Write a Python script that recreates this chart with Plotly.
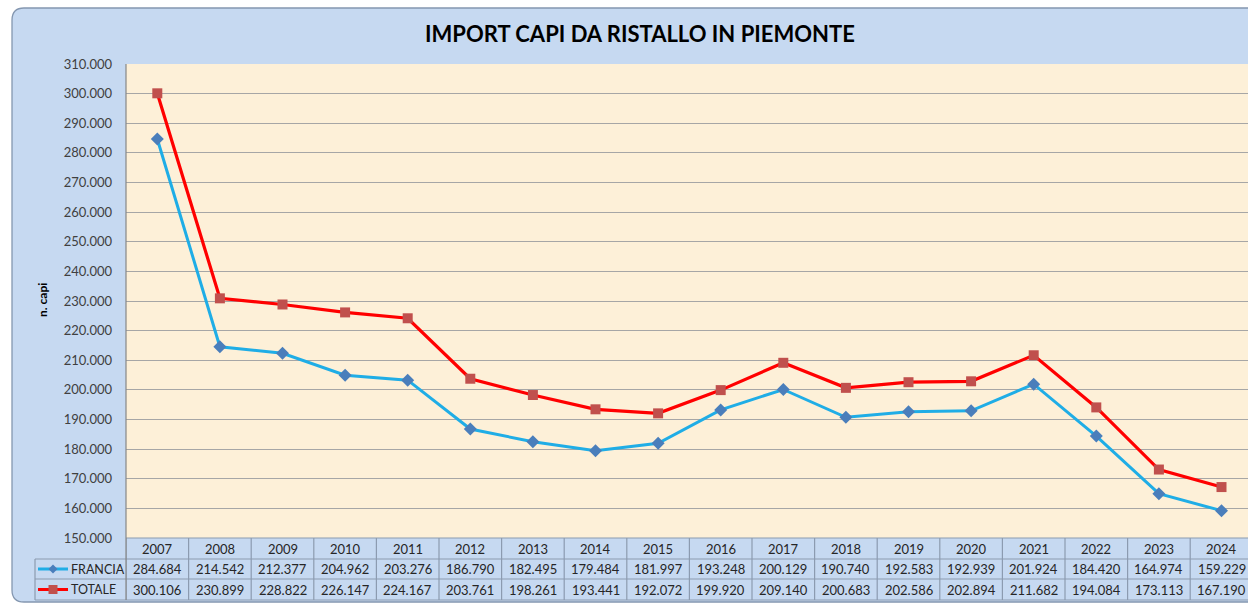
import plotly.graph_objects as go

# ---------------- data ----------------
years = list(range(2007, 2025))
francia = [284684, 214542, 212377, 204962, 203276, 186790, 182495, 179484, 181997,
           193248, 200129, 190740, 192583, 192939, 201924, 184420, 164974, 159229]
totale = [300106, 230899, 228822, 226147, 224167, 203761, 198261, 193441, 192072,
          199920, 209140, 200683, 202586, 202894, 211682, 194084, 173113, 167190]
series_names = ["FRANCIA", "TOTALE"]
chart_title = "IMPORT CAPI DA RISTALLO IN PIEMONTE"
y_title = "n. capi"
y_min, y_max, y_step = 150000, 310000, 10000

# ---------------- layout geometry (pixels) ----------------
W, H = 1248, 603
L, R, T, B = 126, 0, 64, 65
PW = W - L - R
PH = H - T - B
COL = 62.6  # column width in px (one year)
FONT = "Lato"

def px(x):
    return (x - L) / PW

def py(y):
    return (H - B - y) / PH

def fmt(v):
    return f"{v:,}".replace(",", ".")

BLUE_LINE = "#1FADE6"
BLUE_MK = "#4A7EBB"
RED_LINE = "#FF0000"
RED_MK = "#C0504D"
PANEL = "#C6D9F1"
CREAM = "#FDF0D8"
GRID = "#A6A6A6"
TBL = "#8C9BB0"
TXT = "#262626"

fig = go.Figure()
fig.add_trace(go.Scatter(
    x=years, y=francia, name=series_names[0], mode="lines+markers",
    line=dict(color=BLUE_LINE, width=3),
    marker=dict(symbol="diamond", size=10, color=BLUE_MK),
))
fig.add_trace(go.Scatter(
    x=years, y=totale, name=series_names[1], mode="lines+markers",
    line=dict(color=RED_LINE, width=3.2),
    marker=dict(symbol="square", size=10, color=RED_MK),
))

shapes = []

# white surround outside rounded panel
x0p, y0p, x1p, y1p, r = 12, 8, 1275, 602, 12
def rr_path(x0, y0, x1, y1, r):
    return (f"M{px(x0 + r)},{py(y0)} L{px(x1 - r)},{py(y0)} Q{px(x1)},{py(y0)} {px(x1)},{py(y0 + r)} "
            f"L{px(x1)},{py(y1 - r)} Q{px(x1)},{py(y1)} {px(x1 - r)},{py(y1)} "
            f"L{px(x0 + r)},{py(y1)} Q{px(x0)},{py(y1)} {px(x0)},{py(y1 - r)} "
            f"L{px(x0)},{py(y0 + r)} Q{px(x0)},{py(y0)} {px(x0 + r)},{py(y0)} Z")
outer = f"M{px(-5)},{py(-5)} L{px(W + 40)},{py(-5)} L{px(W + 40)},{py(H + 5)} L{px(-5)},{py(H + 5)} Z "
shapes.append(dict(type="path", xref="paper", yref="paper", layer="below",
                   path=outer + rr_path(x0p, y0p, x1p, y1p, r), fillrule="evenodd",
                   fillcolor="white", line=dict(width=0)))
shapes.append(dict(type="path", xref="paper", yref="paper", layer="below",
                   path=rr_path(x0p, y0p, x1p, y1p, r),
                   fillcolor="rgba(0,0,0,0)", line=dict(color="#8497B0", width=1.3)))

# data table grid
row_tops = [538, 559, 579, 600]
for i, yy in enumerate(row_tops):
    xs = L if i == 0 else 35
    shapes.append(dict(type="line", xref="paper", yref="paper",
                       x0=px(xs), x1=px(W + 20), y0=py(yy), y1=py(yy),
                       line=dict(color=TBL, width=1.2)))
for yr in years + [years[-1] + 1]:
    shapes.append(dict(type="line", xref="x", yref="paper",
                       x0=yr - 0.5, x1=yr - 0.5, y0=py(538), y1=py(600),
                       line=dict(color=TBL, width=1.2)))
shapes.append(dict(type="line", xref="paper", yref="paper",
                   x0=px(35), x1=px(35), y0=py(559), y1=py(600),
                   line=dict(color=TBL, width=1.2)))
shapes.append(dict(type="line", xref="paper", yref="paper",
                   x0=px(L), x1=px(L), y0=py(T), y1=py(600),
                   line=dict(color="#868686", width=1.2)))

# legend keys in table
key_rows = [(569, BLUE_LINE, BLUE_MK, "diamond"), (589.5, RED_LINE, RED_MK, "square")]
for yy, lc, mc, sym in key_rows:
    shapes.append(dict(type="line", xref="paper", yref="paper",
                       x0=px(38), x1=px(68), y0=py(yy), y1=py(yy),
                       line=dict(color=lc, width=3)))
    cx = 53
    h = 4.5
    if sym == "diamond":
        path = (f"M{px(cx)},{py(yy - h)} L{px(cx + h)},{py(yy)} "
                f"L{px(cx)},{py(yy + h)} L{px(cx - h)},{py(yy)} Z")
    else:
        path = (f"M{px(cx - h)},{py(yy - h)} L{px(cx + h)},{py(yy - h)} "
                f"L{px(cx + h)},{py(yy + h)} L{px(cx - h)},{py(yy + h)} Z")
    shapes.append(dict(type="path", xref="paper", yref="paper", path=path,
                       fillcolor=mc, line=dict(width=0)))

annotations = []
annotations.append(dict(text=f"<b>{chart_title}</b>", xref="paper", yref="paper",
                        x=px(640), y=py(33), xanchor="center", yanchor="middle",
                        showarrow=False, font=dict(family=FONT, size=22, color="#000000")))
annotations.append(dict(text=f"<b>{y_title}</b>", xref="paper", yref="paper",
                        x=px(42), y=py(300), xanchor="center", yanchor="middle",
                        textangle=-90, showarrow=False,
                        font=dict(family=FONT, size=12, color="#000000")))
for i, yr in enumerate(years):
    annotations.append(dict(text=str(yr), xref="x", yref="paper", x=yr, y=py(548.5),
                            xanchor="center", yanchor="middle", showarrow=False,
                            font=dict(family=FONT, size=13, color=TXT)))
    annotations.append(dict(text=fmt(francia[i]), xref="x", yref="paper", x=yr, y=py(569),
                            xanchor="center", yanchor="middle", showarrow=False,
                            font=dict(family=FONT, size=13, color=TXT)))
    annotations.append(dict(text=fmt(totale[i]), xref="x", yref="paper", x=yr, y=py(589.5),
                            xanchor="center", yanchor="middle", showarrow=False,
                            font=dict(family=FONT, size=13, color=TXT)))
for name, yy in zip(series_names, [569, 589.5]):
    annotations.append(dict(text=name, xref="paper", yref="paper", x=px(69), y=py(yy),
                            xanchor="left", yanchor="middle", showarrow=False,
                            font=dict(family=FONT, size=12.5, color=TXT)))

fig.update_layout(
    template="none",
    width=W, height=H,
    margin=dict(l=L, r=R, t=T, b=B, pad=0),
    paper_bgcolor=PANEL,
    plot_bgcolor=CREAM,
    showlegend=False,
    separators=",.",
    shapes=shapes,
    annotations=annotations,
    xaxis=dict(range=[years[0] - 0.5, years[0] - 0.5 + PW / COL], showticklabels=False,
               showgrid=False, zeroline=False, showline=False, ticks="", automargin=False,
               fixedrange=True),
    yaxis=dict(range=[y_min, y_max], tickvals=list(range(y_min, y_max + 1, y_step)),
               tickformat=",d", showgrid=True, gridcolor=GRID, gridwidth=1.3,
               zeroline=False, showline=False, ticks="", ticklabelstandoff=13,
               tickfont=dict(family=FONT, size=13, color="#404040"), automargin=False,
               fixedrange=True),
)

fig.write_html(
    "out.html",
    config={"displayModeBar": False},
    post_script="document.body.style.margin='0';document.body.style.overflow='hidden';",
)
